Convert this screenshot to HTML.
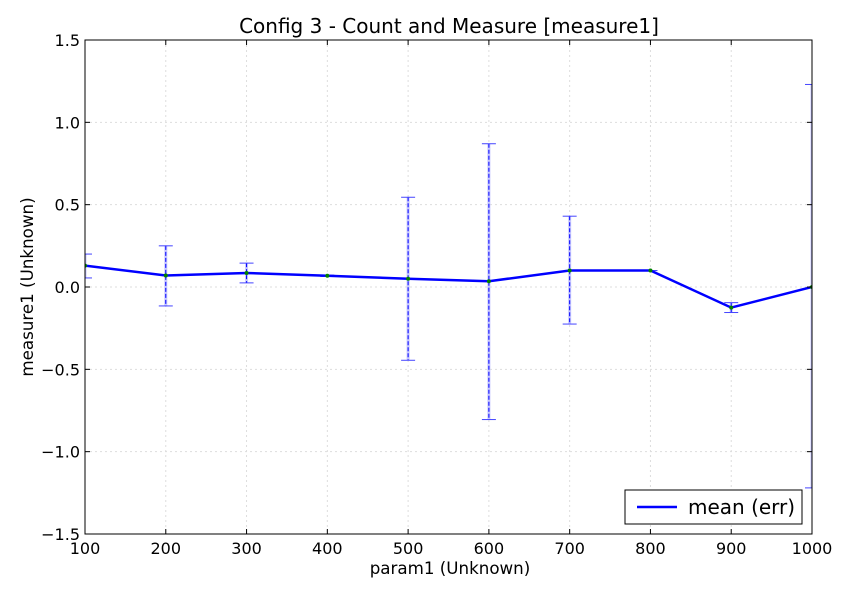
<!DOCTYPE html>
<html><head><meta charset="utf-8"><style>
body{margin:0;background:#fff;}
svg text{font-family:"DejaVu Sans","Liberation Sans",sans-serif;}
</style></head><body>
<svg id="chart" width="850" height="600" xmlns="http://www.w3.org/2000/svg">
<defs><clipPath id="pc"><rect x="85" y="40" width="727" height="494"/></clipPath></defs>
<rect width="850" height="600" fill="#fff"/>
<g id="grid"></g><g id="errs" clip-path="url(#pc)"></g><g id="line" clip-path="url(#pc)"></g><g id="axes"></g>
</svg>
<script>
const xs=[100,200,300,400,500,600,700,800,900,1000];
const means=[0.13,0.07,0.085,0.068,0.05,0.035,0.10,0.10,-0.125,0.0];
const errHigh=[0.20,0.25,0.145,0.072,0.545,0.87,0.43,0.10,-0.095,1.23];
const errLow=[0.055,-0.115,0.025,0.064,-0.445,-0.805,-0.225,0.10,-0.155,-1.22];
const xTicks=[100,200,300,400,500,600,700,800,900,1000];
const yTicks=[-1.5,-1.0,-0.5,0.0,0.5,1.0,1.5];
const L=85,R=812,T=40,B=534;
const X=v=>L+(v-100)/900*(R-L);
const Y=v=>T+(1.5-v)/3*(B-T);
const NS='http://www.w3.org/2000/svg';
function mk(t,a,p){const e=document.createElementNS(NS,t);for(const k in a)e.setAttribute(k,a[k]);p.appendChild(e);return e;}
const grid=document.getElementById('grid'),axes=document.getElementById('axes'),errs=document.getElementById('errs'),lineG=document.getElementById('line');
xTicks.forEach(t=>{const x=X(t);
 const g=mk('line',{x1:x,x2:x,y1:T,y2:B,stroke:'#ddd','stroke-dasharray':'2,3'},grid);
 
 mk('line',{x1:x,x2:x,y1:B,y2:B-5,stroke:'#000'},axes);mk('line',{x1:x,x2:x,y1:T,y2:T+5,stroke:'#000'},axes);
 const tx=mk('text',{x:x,y:B+20,'text-anchor':'middle','font-size':16},axes);tx.textContent=t;
 });
yTicks.forEach(t=>{const y=Y(t);
 const g=mk('line',{x1:L,x2:R,y1:y,y2:y,stroke:'#ddd','stroke-dasharray':'2,3'},grid);
 
 mk('line',{x1:L,x2:L+5,y1:y,y2:y,stroke:'#000'},axes);mk('line',{x1:R,x2:R-5,y1:y,y2:y,stroke:'#000'},axes);
 const tx=mk('text',{x:L-5,y:y+6,'text-anchor':'end','font-size':16},axes);tx.textContent=t.toFixed(1).replace('-','\u2212');
 });
xs.forEach((v,i)=>{const x=X(v),y1=Y(errHigh[i]),y2=Y(errLow[i]);
 const g=mk('g',{},errs);
 mk('line',{x1:x,x2:x,y1:y1,y2:y2,stroke:'#c8c8ff','stroke-width':3},g);
 mk('line',{x1:x,x2:x,y1:y1,y2:y2,stroke:'#0000ff','stroke-dasharray':'4,2'},g);
 [y1,y2].forEach(y=>mk('line',{x1:x-7,x2:x+7,y1:y,y2:y,stroke:'#4444ff'},g));});
mk('line',{x1:L,x2:L,y1:T,y2:B,stroke:'#000','stroke-dasharray':'4,2'},axes);
const pl=mk('polyline',{points:xs.map((v,i)=>X(v)+','+Y(means[i])).join(' '),fill:'none',stroke:'#0000ff','stroke-width':2.5},lineG);

xs.forEach((v,i)=>{const c=mk('circle',{cx:X(v),cy:Y(means[i]),r:2,fill:'#008000'},lineG);
 });
const fr=mk('rect',{x:L,y:T,width:R-L,height:B-T,fill:'none',stroke:'#000'},axes);

const ti=mk('text',{x:449,y:33,'text-anchor':'middle','font-size':20},axes);ti.textContent='Config 3 - Count and Measure [measure1]';

const xl=mk('text',{x:450,y:574,'text-anchor':'middle','font-size':16.7},axes);xl.textContent='param1 (Unknown)';

const yl=mk('text',{x:33,y:287,'text-anchor':'middle','font-size':16.7,transform:'rotate(-90 33 287)'},axes);yl.textContent='measure1 (Unknown)';

const lg=mk('g',{},axes);
mk('rect',{x:625,y:490,width:177,height:34,fill:'#fff',stroke:'#000'},lg);
mk('line',{x1:637,x2:677,y1:507,y2:507,stroke:'#0000ff','stroke-width':2.5},lg);
const lt=mk('text',{x:688,y:514,'font-size':20},lg);lt.textContent='mean (err)';

</script>
</body></html>
